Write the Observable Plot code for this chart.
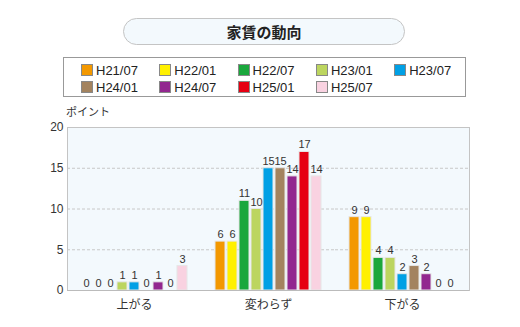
<!DOCTYPE html>
<html>
<head>
<meta charset="utf-8">
<script src="https://cdn.jsdelivr.net/npm/d3@7"></script>
<script src="https://cdn.jsdelivr.net/npm/@observablehq/plot@0.6"></script>
<style>
  body { margin: 0; background: #fff; font-family: "Liberation Sans", "Noto Sans CJK JP", sans-serif; }
  #wrap { position: relative; width: 520px; height: 327px; overflow: hidden; }
  #title { position: absolute; left: 123px; top: 18px; width: 280px; height: 25px; border: 1px solid #c4c4c4; border-radius: 14px;
           background: #f3f9fd; text-align: center; line-height: 25px; font-size: 15px; font-weight: bold; color: #222;
           font-family: "Noto Sans CJK JP", sans-serif; }
  #legend { position: absolute; left: 63px; top: 57px; width: 401px; height: 38px; border: 1px solid #999; }
  .item { position: absolute; font-size: 13px; color: #222; line-height: 16px; white-space: nowrap; }
  .sw { display: inline-block; width: 10px; height: 10px; border: 1px solid #888; vertical-align: -1px; margin-right: 3px; }
  #ylabel { position: absolute; left: 66px; top: 103px; font-size: 11px; color: #333; font-family: "Noto Sans CJK JP", sans-serif; }
  #chart { position: absolute; left: 0; top: 100px; }
</style>
</head>
<body>
<div id="wrap">
  <div id="title">家賃の動向</div>
  <div id="legend"></div>
  <div id="ylabel">ポイント</div>
  <div id="chart"></div>
</div>
<script>
const categories = ["上がる", "変わらず", "下がる"];
const series = ["H21/07", "H22/01", "H22/07", "H23/01", "H23/07", "H24/01", "H24/07", "H25/01", "H25/07"];
const colors = ["#f39800", "#fff000", "#1aa73c", "#bcd55f", "#00a0e5", "#a3835f", "#92278f", "#e60012", "#f9d2e1"];
const valuesUp   = [0, 0, 0, 1, 1, 0, 1, 0, 3];
const valuesSame = [6, 6, 11, 10, 15, 15, 14, 17, 14];
const valuesDown = [9, 9, 4, 4, 2, 3, 2, 0, 0];
const yTicks = [0, 5, 10, 15, 20];

const table = [];
[valuesUp, valuesSame, valuesDown].forEach((vals, gi) => {
  vals.forEach((v, si) => table.push({group: categories[gi], series: series[si], value: v}));
});

// legend
const legend = document.getElementById("legend");
series.forEach((s, i) => {
  const d = document.createElement("div");
  d.className = "item";
  d.style.left = (17 + (i % 5) * 78.3) + "px";
  d.style.top = (i < 5 ? 5 : 22) + "px";
  d.innerHTML = `<span class="sw" style="background:${colors[i]}"></span>${s}`;
  legend.appendChild(d);
});

const chart = Plot.plot({
  width: 520,
  height: 220,
  marginLeft: 66,
  marginRight: 50,
  marginTop: 27,
  marginBottom: 30,
  style: {fontSize: "12px", color: "#333", fontFamily: "'Liberation Sans', 'Noto Sans CJK JP', sans-serif", background: "transparent"},
  fx: {domain: categories, padding: 0, label: null, axis: "bottom", tickSize: 0, tickPadding: 10},
  x: {domain: series, paddingInner: 0.17, paddingOuter: 1.15, axis: null},
  y: {domain: [0, 20], ticks: yTicks, label: null, tickSize: 0, tickPadding: 4, tickFormat: d => d},
  color: {domain: series, range: colors},
  marks: [
    Plot.frame({fill: "#f3f9fd", stroke: null, facet: "super"}),
    Plot.ruleY(yTicks.filter(t => t > 0 && t < 20), {stroke: "#c8c8c8", strokeDasharray: "3,2"}),
    Plot.barY(table, {fx: "group", x: "series", y: "value", fill: "series", stroke: "#e6e6e6", strokeWidth: 1}),
    Plot.text(table, {fx: "group", x: "series", y: "value", text: d => String(d.value), dy: -7, fill: "#333", fontSize: 11}),
    Plot.frame({stroke: "#c4c4c4", facet: "super"}),
    Plot.ruleY([0], {stroke: "#bbb"})
  ]
});
document.getElementById("chart").appendChild(chart);
</script>
</body>
</html>
